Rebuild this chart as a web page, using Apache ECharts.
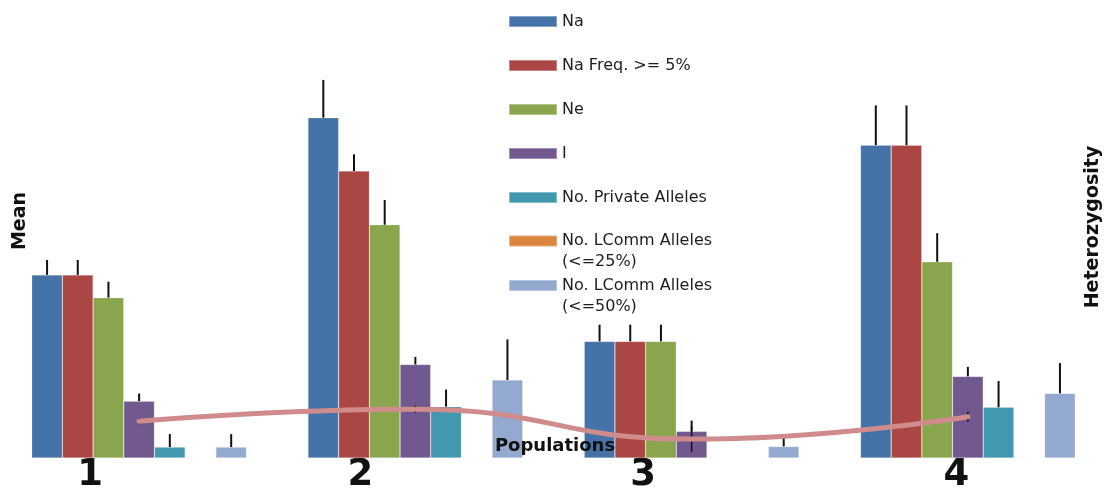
<!DOCTYPE html>
<html><head><meta charset="utf-8">
<script src="https://cdn.jsdelivr.net/npm/echarts@6/dist/echarts.min.js"></script>
<style>html,body{margin:0;padding:0;background:#fff}#c{width:1106px;height:494px}</style>
</head><body><div id="c"></div>
<script>
// ---------- data ----------
const categories = ['1', '2', '3', '4'];
const seriesNames = ['Na', 'Na Freq. >= 5%', 'Ne', 'I', 'No. Private Alleles',
  'No. LComm Alleles (<=25%)', 'No. LComm Alleles (<=50%)'];
const na = [4.6, 8.55, 2.93, 7.86];
const naErr = [0.375, 0.95, 0.42, 1.0];
const naFreq = [4.6, 7.21, 2.93, 7.86];
const naFreqErr = [0.375, 0.42, 0.42, 1.0];
const ne = [4.03, 5.86, 2.93, 4.93];
const neErr = [0.4, 0.62, 0.42, 0.72];
const iVals = [1.43, 2.35, 0.67, 2.05];
const iErr = [0.19, 0.19, 0.27, 0.24];
const privateAlleles = [0.275, 1.29, 0, 1.275];
const privateErr = [0.325, 0.43, 0, 0.66];
const lcomm25 = [0, 0, 0, 0];
const lcomm25Err = [0, 0, 0, 0];
const lcomm50 = [0.275, 1.96, 0.29, 1.625];
const lcomm50Err = [0.325, 1.02, 0.25, 0.76];
const heterozygosity = [0.37, 0.49, 0.19, 0.415];
const heterozygosityErr = [0.03, 0.035, 0.13, 0.05];

// ---------- style ----------
const colors = ['#4572A7', '#AA4643', '#89A54E', '#71588F', '#4198AF', '#DB843D', '#93A9CF'];
const CAT_GAP = 0.2224;
const labelPadRight = [98, 110, 97, 23];
const FONT = 'DejaVu Sans';

const values = [na, naFreq, ne, iVals, privateAlleles, lcomm25, lcomm50];
const errors = [naErr, naFreqErr, neErr, iErr, privateErr, lcomm25Err, lcomm50Err];

const barSeries = values.map((v, s) => ({
  name: seriesNames[s], type: 'bar', data: v,
  barGap: 0, barCategoryGap: (CAT_GAP * 100) + '%',
  itemStyle: { color: colors[s], borderColor: 'rgba(255,255,255,0.35)', borderWidth: 0.6 },
  z: 2
}));

const errData = [];
errors.forEach((arr, s) => arr.forEach((e, c) => { if (e > 0) errData.push([c, s, values[s][c], e]); }));

const hetErrData = heterozygosity.map((h, c) => [c, h, heterozygosityErr[c]]);

const rich = {};
categories.forEach((c, i) => {
  rich['l' + i] = { fontSize: 37, fontWeight: 'bold', fontFamily: FONT, color: '#111', padding: [0, labelPadRight[i], 0, 0] };
});

const legendText = { fontSize: 16, fontFamily: FONT, color: '#1e1e1e', lineHeight: 21 };
// wrapped names: an empty leading line keeps the first text line level with the swatch
const legendFmt = n => n.indexOf(' (') >= 0 ? '\n' + n.replace(' (', '\n(') : n;
const legendBase = { orient: 'vertical', left: 508, padding: 0, itemWidth: 48, itemHeight: 11, itemGap: 23,
  icon: 'rect', selectedMode: false, formatter: legendFmt, textStyle: legendText };

const chart = echarts.init(document.getElementById('c'), null, { renderer: 'canvas' });
chart.setOption({
  backgroundColor: '#fff',
  animation: false,
  grid: { left: 1, width: 1106, top: 60, height: 400, containLabel: false },
  legend: [
    Object.assign({}, legendBase, { top: 11, data: seriesNames.slice(0, 5) }),
    Object.assign({}, legendBase, { top: 209.5, data: [seriesNames[5]] }),
    Object.assign({}, legendBase, { top: 254, data: [seriesNames[6]] })
  ],
  xAxis: {
    type: 'category', data: categories,
    axisLine: { show: false }, axisTick: { show: false }, splitLine: { show: false },
    axisLabel: { interval: 0, hideOverlap: false, margin: -1, formatter: (v, i) => '{l' + i + '|' + v + '}', rich: rich }
  },
  yAxis: [
    { type: 'value', min: 0, max: 10, show: false, splitLine: { show: false } },
    { type: 'value', min: 0, max: 4, show: false, splitLine: { show: false } }
  ],
  series: barSeries.concat([
    {
      type: 'custom', name: 'errors', data: errData, z: 3, encode: { x: 0, y: 2 }, clip: false,
      renderItem: (params, api) => {
        const c = api.value(0), s = api.value(1), v = api.value(2), e = api.value(3);
        const band = api.size([1, 0])[0];
        const gw = band * (1 - CAT_GAP);
        const bw = gw / 7;
        const p0 = api.coord([c, v]);
        const p1 = api.coord([c, v + e]);
        const x = p0[0] - gw / 2 + bw * (s + 0.5);
        return { type: 'line', shape: { x1: x, y1: p0[1], x2: x, y2: p1[1] }, style: { stroke: '#111', lineWidth: 2 } };
      }
    },
    {
      type: 'custom', name: 'hetErrors', data: hetErrData, yAxisIndex: 1, z: 4, encode: { x: 0, y: 1 }, clip: false,
      renderItem: (params, api) => {
        const c = api.value(0), h = api.value(1), e = api.value(2);
        const a = api.coord([c, h - e]);
        const b = api.coord([c, h + e]);
        return { type: 'line', shape: { x1: a[0], y1: a[1], x2: b[0], y2: b[1] }, style: { stroke: '#111', lineWidth: 1.5 } };
      }
    },
    {
      type: 'line', name: 'Heterozygosity', data: heterozygosity, yAxisIndex: 1, smooth: 0.5,
      symbol: 'none', z: 5,
      lineStyle: { color: '#d08c8c', width: 5, cap: 'round' }
    }
  ]),
  graphic: [
    { type: 'text', x: 20, y: 221, rotation: Math.PI / 2,
      style: { text: 'Mean', fontSize: 19, fontWeight: 'bold', fontFamily: FONT, fill: '#111', align: 'center', verticalAlign: 'middle' } },
    { type: 'text', x: 1093, y: 227, rotation: Math.PI / 2,
      style: { text: 'Heterozygosity', fontSize: 19, fontWeight: 'bold', fontFamily: FONT, fill: '#111', align: 'center', verticalAlign: 'middle' } },
    { type: 'text', x: 555, y: 446, z: 10,
      style: { text: 'Populations', fontSize: 18, fontWeight: 'bold', fontFamily: FONT, fill: '#111', align: 'center', verticalAlign: 'middle' } }
  ]
});
</script>
</body></html>
